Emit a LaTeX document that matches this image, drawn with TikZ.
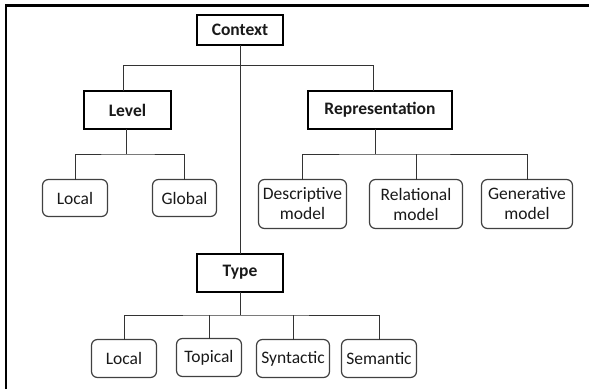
\documentclass[tikz,border=0pt]{standalone}
\usepackage{fontspec}
\setmainfont{Carlito}
\begin{document}
\begin{tikzpicture}[x=1pt,y=-1pt,
  every node/.style={font=\fontsize{17.5}{20}\selectfont, inner sep=0pt, outer sep=0pt, align=center, text=black!90},
  head/.style={draw=black, line width=2pt, font=\fontsize{17.5}{20}\selectfont\bfseries},
  leaf/.style={draw=black!75, line width=1.2pt, rounded corners=6pt},
  conn/.style={draw=black!80, line width=1pt}]
\useasboundingbox (0,0) rectangle (589,389);
\fill[white] (0,0) rectangle (589,389);
% frame
\draw[line width=2.5pt] (6,389) -- (6,5.5) -- (589,5.5);
% header nodes
\node[head, minimum width=86pt, minimum height=30pt] (ctx) at (240,30) {Context};
\node[head, minimum width=87pt, minimum height=38pt] (lev) at (127.5,110) {Level};
\node[head, minimum width=144pt, minimum height=38pt] (rep) at (380,110) {Representation};
\node[head, minimum width=86pt, minimum height=38pt] (typ) at (240,272.5) {Type};
% leaves
\node[leaf, minimum width=65pt, minimum height=37pt] (loca) at (75,198) {Local};
\node[leaf, minimum width=64pt, minimum height=37pt] (glob) at (184.5,198) {Global};
\node[leaf, minimum width=88pt, minimum height=49pt] (desc) at (302.5,204) {Descriptive\\model};
\node[leaf, minimum width=93pt, minimum height=49pt] (rel) at (416,204) {Relational\\model};
\node[leaf, minimum width=91pt, minimum height=49pt] (gen) at (527,204) {Generative\\model};
\node[leaf, minimum width=65pt, minimum height=38pt] (locb) at (124,358.5) {Local};
\node[leaf, minimum width=65pt, minimum height=38pt] (topi) at (209,357.5) {Topical};
\node[leaf, minimum width=73pt, minimum height=38pt] (synt) at (293,358.5) {Syntactic};
\node[leaf, minimum width=75pt, minimum height=38pt] (sema) at (379,358.5) {Semantic};
% bus coordinates
\coordinate (b0a) at (123,65.6);
\coordinate (b0b) at (373,65.6);
\coordinate (b1) at (126,154);
\coordinate (b2) at (375,154);
\coordinate (b3) at (240,315);
% connectors
\draw[conn] (ctx.south) -- (typ.north);
\draw[conn] (b0a |- lev.north) |- (b0b) -- (b0b |- rep.north);
\draw[conn] (b1 |- lev.south) -- (b1);
\draw[conn] (loca.north) |- (b1) -| (glob.north);
\draw[conn] (b2 |- rep.south) -- (b2);
\draw[conn] (desc.north) |- (b2) -| (gen.north);
\draw[conn] (rel.north) -- (rel.north |- b2);
\draw[conn] (typ.south) -- (b3);
\draw[conn] (locb.north) |- (b3) -| (sema.north);
\draw[conn] (topi.north) -- (topi.north |- b3);
\draw[conn] (synt.north) -- (synt.north |- b3);
\end{tikzpicture}
\end{document}
